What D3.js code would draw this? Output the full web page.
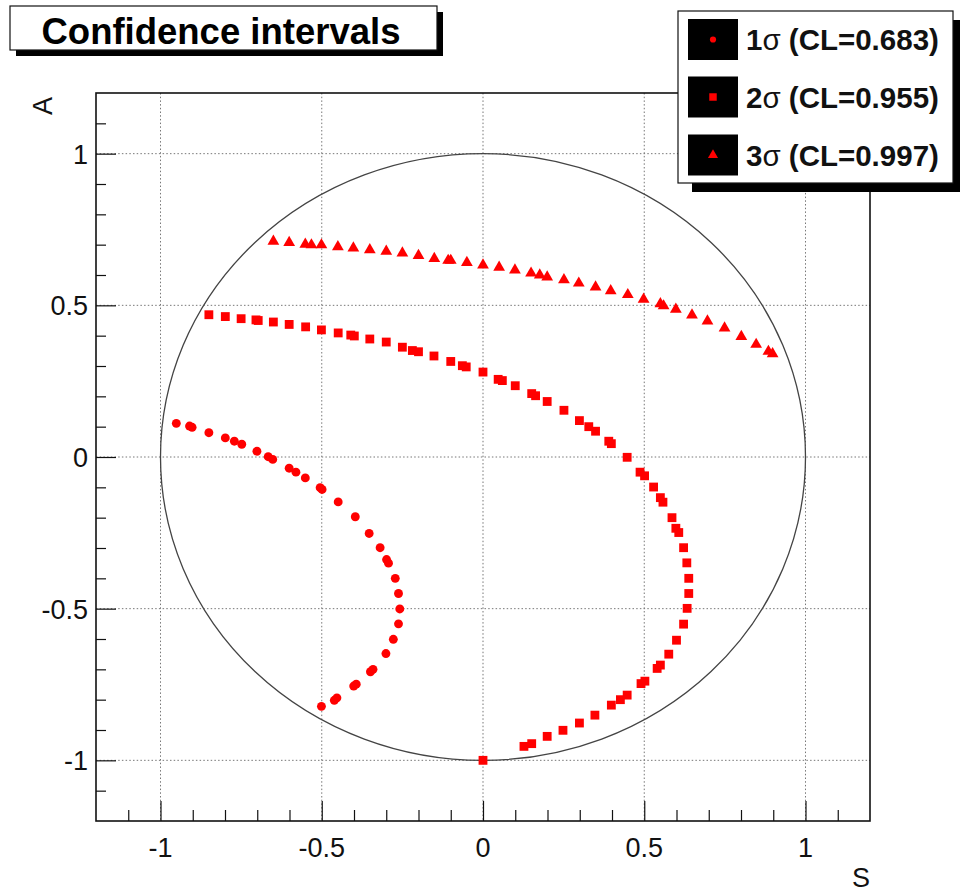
<!DOCTYPE html>
<html>
<head>
<meta charset="utf-8">
<script src="https://cdn.jsdelivr.net/npm/d3@7"></script>
<style>
  html, body { margin: 0; padding: 0; background: #fff; }
  svg { display: block; }
  text { font-family: "Liberation Sans", Arial, Helvetica, sans-serif; }
</style>
</head>
<body>
<svg id="chart" width="960" height="892"></svg>
<script>
// ---- data -------------------------------------------------------------
const titleText = "Confidence intervals";
const xTitle = "S";
const yTitle = "A";
const majorTicks = [-1, -0.5, 0, 0.5, 1];
const tickLabels = ["-1", "-0.5", "0", "0.5", "1"];

// 1 sigma contour (circles)
const s1S = [-0.951,-0.910,-0.902,-0.850,-0.799,-0.771,-0.748,-0.701,-0.666,-0.652,-0.601,-0.580,-0.551,-0.505,-0.499,-0.449,-0.396,-0.353,-0.319,-0.299,-0.293,-0.272,-0.262,-0.258,-0.262,-0.278,-0.301,-0.349,-0.341,-0.401,-0.393,-0.453,-0.461,-0.501];
const s1A = [0.111,0.102,0.098,0.080,0.063,0.052,0.042,0.019,0.001,-0.008,-0.037,-0.050,-0.069,-0.101,-0.107,-0.148,-0.197,-0.252,-0.299,-0.338,-0.350,-0.400,-0.450,-0.501,-0.550,-0.601,-0.648,-0.708,-0.700,-0.755,-0.749,-0.794,-0.802,-0.822];

// 2 sigma contour (squares)
const s2S = [-0.850,-0.799,-0.750,-0.704,-0.697,-0.650,-0.601,-0.550,-0.501,-0.449,-0.410,-0.399,-0.351,-0.300,-0.250,-0.219,-0.200,-0.152,-0.100,-0.064,-0.052,0.000,0.047,0.060,0.100,0.151,0.163,0.199,0.251,0.299,0.328,0.349,0.390,0.398,0.447,0.487,0.501,0.529,0.550,0.558,0.586,0.598,0.607,0.622,0.632,0.638,0.638,0.633,0.622,0.600,0.576,0.550,0.540,0.502,0.490,0.447,0.426,0.398,0.347,0.299,0.248,0.199,0.151,0.127,0.000];
const s2A = [0.469,0.463,0.456,0.452,0.450,0.445,0.437,0.429,0.419,0.409,0.402,0.399,0.389,0.379,0.362,0.351,0.347,0.333,0.315,0.301,0.297,0.280,0.256,0.252,0.235,0.209,0.202,0.183,0.154,0.120,0.100,0.085,0.052,0.044,-0.001,-0.050,-0.062,-0.099,-0.134,-0.149,-0.200,-0.235,-0.249,-0.299,-0.349,-0.400,-0.450,-0.499,-0.551,-0.604,-0.650,-0.686,-0.697,-0.739,-0.747,-0.785,-0.800,-0.818,-0.851,-0.877,-0.901,-0.921,-0.945,-0.954,-1.000];

// 3 sigma contour (triangles)
const s3S = [-0.650,-0.601,-0.551,-0.532,-0.501,-0.450,-0.402,-0.351,-0.300,-0.250,-0.200,-0.151,-0.108,-0.100,-0.050,0.000,0.050,0.099,0.149,0.176,0.199,0.251,0.297,0.349,0.396,0.449,0.498,0.550,0.560,0.598,0.648,0.696,0.749,0.801,0.847,0.885,0.898];
const s3A = [0.711,0.707,0.701,0.699,0.699,0.693,0.689,0.683,0.678,0.672,0.664,0.654,0.648,0.648,0.641,0.633,0.625,0.616,0.606,0.600,0.593,0.584,0.573,0.560,0.548,0.535,0.520,0.505,0.498,0.487,0.468,0.448,0.425,0.397,0.371,0.348,0.340];

const legendLabels = [["1", " (CL=0.683)"], ["2", " (CL=0.955)"], ["3", " (CL=0.997)"]];

// ---- layout -----------------------------------------------------------
const svg = d3.select("#chart");
const frame = { left: 96, right: 870, top: 93, bottom: 821 };
const x = d3.scaleLinear().domain([-1.2, 1.2]).range([frame.left, frame.right]);
const y = d3.scaleLinear().domain([-1.2, 1.2]).range([frame.bottom, frame.top]);

const gridColor = "#777";
const markColor = "#ff0000";

// grid (dotted) at the major ticks
const grid = svg.append("g");
grid.selectAll("line.gx").data(majorTicks).join("line")
  .attr("x1", d => x(d)).attr("x2", d => x(d))
  .attr("y1", frame.top).attr("y2", frame.bottom)
  .attr("stroke", gridColor).attr("stroke-width", 1).attr("stroke-dasharray", "1.5 2.2");
grid.selectAll("line.gy").data(majorTicks).join("line")
  .attr("y1", d => y(d)).attr("y2", d => y(d))
  .attr("x1", frame.left).attr("x2", frame.right)
  .attr("stroke", gridColor).attr("stroke-width", 1).attr("stroke-dasharray", "1.5 2.2");

// unit circle boundary
svg.append("ellipse")
  .attr("cx", x(0)).attr("cy", y(0))
  .attr("rx", x(1) - x(0)).attr("ry", y(0) - y(1))
  .attr("fill", "none").attr("stroke", "#444").attr("stroke-width", 1.3);

// axes: ticks drawn inward from the bottom and left edges
const minorVals = d3.range(-11, 12).map(v => v / 10);
const isMajor = v => Math.abs(v * 2 - Math.round(v * 2)) < 1e-6;

const xAxis = d3.axisBottom(x).tickValues(minorVals)
  .tickSizeInner(0).tickSizeOuter(0).tickFormat("");
const gx = svg.append("g").attr("transform", `translate(0,${frame.bottom})`).call(xAxis);
gx.select(".domain").remove();
gx.selectAll(".tick line")
  .attr("y2", d => isMajor(d) ? -20 : -11)
  .attr("stroke", "#111").attr("stroke-width", 1.2);

const yAxis = d3.axisLeft(y).tickValues(minorVals)
  .tickSizeInner(0).tickSizeOuter(0).tickFormat("");
const gy = svg.append("g").attr("transform", `translate(${frame.left},0)`).call(yAxis);
gy.select(".domain").remove();
gy.selectAll(".tick line")
  .attr("x2", d => isMajor(d) ? 20 : 10)
  .attr("stroke", "#111").attr("stroke-width", 1.2);

// tick labels
svg.append("g").selectAll("text").data(majorTicks).join("text")
  .attr("x", d => x(d)).attr("y", frame.bottom + 36)
  .attr("text-anchor", "middle").attr("font-size", 27).attr("fill", "#111")
  .text((d, i) => tickLabels[i]);
svg.append("g").selectAll("text").data(majorTicks).join("text")
  .attr("x", frame.left - 8).attr("y", d => y(d) + 10)
  .attr("text-anchor", "end").attr("font-size", 27).attr("fill", "#111")
  .text((d, i) => tickLabels[i]);

// axis titles
svg.append("text").attr("x", frame.right).attr("y", 887)
  .attr("text-anchor", "end").attr("font-size", 27).attr("fill", "#111").text(xTitle);
svg.append("text").attr("transform", `translate(52,${frame.top + 4}) rotate(-90)`)
  .attr("text-anchor", "end").attr("font-size", 27).attr("fill", "#111").text(yTitle);

// frame
svg.append("rect")
  .attr("x", frame.left).attr("y", frame.top)
  .attr("width", frame.right - frame.left).attr("height", frame.bottom - frame.top)
  .attr("fill", "none").attr("stroke", "#111").attr("stroke-width", 1.6);

// ---- markers ----------------------------------------------------------
const circleSym = d3.symbol().type(d3.symbolCircle).size(62);
const squareSym = d3.symbol().type(d3.symbolSquare).size(78);
const triSym = d3.symbol().type(d3.symbolTriangle).size(60);

const series = [
  { S: s1S, A: s1A, sym: circleSym },
  { S: s2S, A: s2A, sym: squareSym },
  { S: s3S, A: s3A, sym: triSym }
];
series.forEach(s => {
  const pts = s.S.map((v, i) => [v, s.A[i]]);
  svg.append("g").selectAll("path").data(pts).join("path")
    .attr("d", s.sym())
    .attr("transform", d => `translate(${x(d[0])},${y(d[1])})`)
    .attr("fill", markColor);
});

// ---- title box ----------------------------------------------------------
const tb = { x: 10, y: 6, w: 427, h: 44, sh: 6 };
svg.append("rect").attr("x", tb.x + tb.sh).attr("y", tb.y + tb.sh)
  .attr("width", tb.w).attr("height", tb.h).attr("fill", "#000");
svg.append("rect").attr("x", tb.x).attr("y", tb.y).attr("width", tb.w).attr("height", tb.h)
  .attr("fill", "#fff").attr("stroke", "#111").attr("stroke-width", 1.2);
svg.append("text").attr("x", 221).attr("y", tb.y + 38)
  .attr("text-anchor", "middle").attr("font-size", 36.5).attr("font-weight", "bold")
  .attr("fill", "#000").text(titleText);

// ---- legend -----------------------------------------------------------
const lg = { x: 678, y: 11, w: 275, h: 172, sh: 9 };
svg.append("rect").attr("x", lg.x + lg.sh + 5).attr("y", lg.y + lg.sh)
  .attr("width", lg.w - 5).attr("height", lg.h).attr("fill", "#000");
svg.append("rect").attr("x", lg.x).attr("y", lg.y).attr("width", lg.w).attr("height", lg.h)
  .attr("fill", "#fff").attr("stroke", "#111").attr("stroke-width", 1.2);

const legSyms = [
  d3.symbol().type(d3.symbolCircle).size(30),
  d3.symbol().type(d3.symbolSquare).size(56),
  d3.symbol().type(d3.symbolTriangle).size(44)
];
const rowY = [39.5, 97, 155];
legendLabels.forEach((lab, i) => {
  const g = svg.append("g");
  g.append("rect").attr("x", 688).attr("y", rowY[i] - 20.5)
    .attr("width", 50).attr("height", 41).attr("fill", "#000");
  g.append("path").attr("d", legSyms[i]())
    .attr("transform", `translate(713,${rowY[i]})`).attr("fill", markColor);
  const t = g.append("text").attr("x", 746).attr("y", rowY[i] + 10.5)
    .attr("font-size", 29.5).attr("font-weight", "bold").attr("fill", "#111");
  t.append("tspan").text(lab[0]);
  t.append("tspan").attr("font-weight", "normal").text("\u03c3");
  t.append("tspan").text(lab[1]);
});
</script>
</body>
</html>
